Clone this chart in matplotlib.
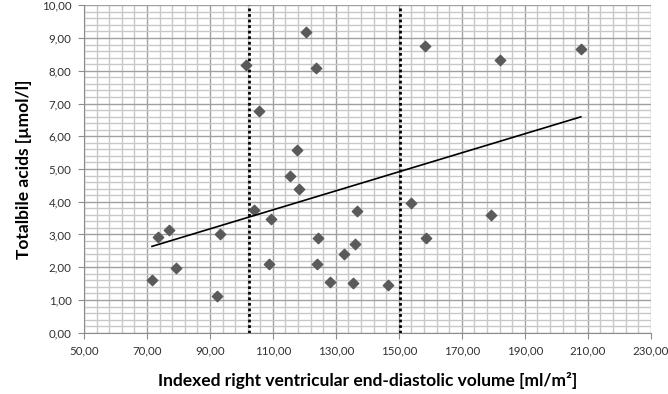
import numpy as np
import matplotlib
matplotlib.use("Agg")
import matplotlib.pyplot as plt
from matplotlib.ticker import FuncFormatter

# indexed RVEDV [ml/m2] vs total bile acids [umol/l]
rvedv = [71.6, 73.4, 76.9, 79.2, 92.4, 93.2, 101.4, 105.6, 120.5, 123.6,
         158.2, 117.7, 115.4, 118.2, 104.1, 109.5, 108.8, 124.2, 124.0, 128.3,
         132.5, 135.3, 136.1, 136.7, 146.6, 153.9, 158.7, 182.0, 207.8, 179.3]
bile_acids = [1.61, 2.92, 3.15, 1.99, 1.12, 3.00, 8.17, 6.78, 9.17, 8.08,
              8.77, 5.58, 4.80, 4.38, 3.75, 3.48, 2.11, 2.88, 2.11, 1.55,
              2.39, 1.51, 2.70, 3.71, 1.46, 3.97, 2.88, 8.32, 8.66, 3.60]

# cut-off lines
cutoffs = [102.4, 150.4]

plt.rcParams['font.family'] = ['Lato', 'DejaVu Sans']

fig = plt.figure(figsize=(6.68, 3.94), dpi=100)
ax = fig.add_axes([0.1257, 0.1556, 0.8484, 0.831])

ax.set_xlim(50, 230)
ax.set_ylim(0, 10)
ax.set_xticks(np.arange(50, 231, 20))
ax.set_xticks(np.arange(50, 231, 4), minor=True)
ax.set_yticks(np.arange(0, 10.01, 1))
ax.set_yticks(np.arange(0, 10.01, 0.2), minor=True)
comma = FuncFormatter(lambda v, p: f"{v:.2f}".replace(".", ","))
ax.xaxis.set_major_formatter(comma)
ax.yaxis.set_major_formatter(comma)

ax.grid(which='minor', color='#c8c8c8', linewidth=1.0)
ax.grid(which='major', color='#a0a0a0', linewidth=1.0)
ax.set_axisbelow(True)

for s in ['top', 'right']:
    ax.spines[s].set_visible(False)
for s in ['left', 'bottom']:
    ax.spines[s].set_color('#8c8c8c')
ax.tick_params(which='major', direction='out', length=4, color='#8c8c8c',
               labelsize=8.3, labelcolor='#303030', pad=5)
ax.tick_params(which='minor', length=0)

for c in cutoffs:
    ax.axvline(c, color='black', linestyle=(0, (1, 1)), linewidth=2)

ax.scatter(rvedv, bile_acids, marker='D', s=28, color='#5a5a5a', zorder=3)

# linear trend line
k, b = np.polyfit(rvedv, bile_acids, 1)
xs = np.array([min(rvedv), max(rvedv)])
ax.plot(xs, k * xs + b, color='black', linewidth=1.2, zorder=4)

ax.set_xlabel("Indexed right ventricular end-diastolic volume [ml/m²]",
              fontsize=12.5, fontweight='bold')
ax.set_ylabel("Totalbile acids [µmol/l]", fontsize=12.5, fontweight='bold')
ax.xaxis.set_label_coords(0.5, -0.147)
ax.yaxis.set_label_coords(-0.106, 0.5)
ax.xaxis.label.set_verticalalignment('center')
ax.yaxis.label.set_verticalalignment('center')

fig.savefig("out.png", dpi=100)
